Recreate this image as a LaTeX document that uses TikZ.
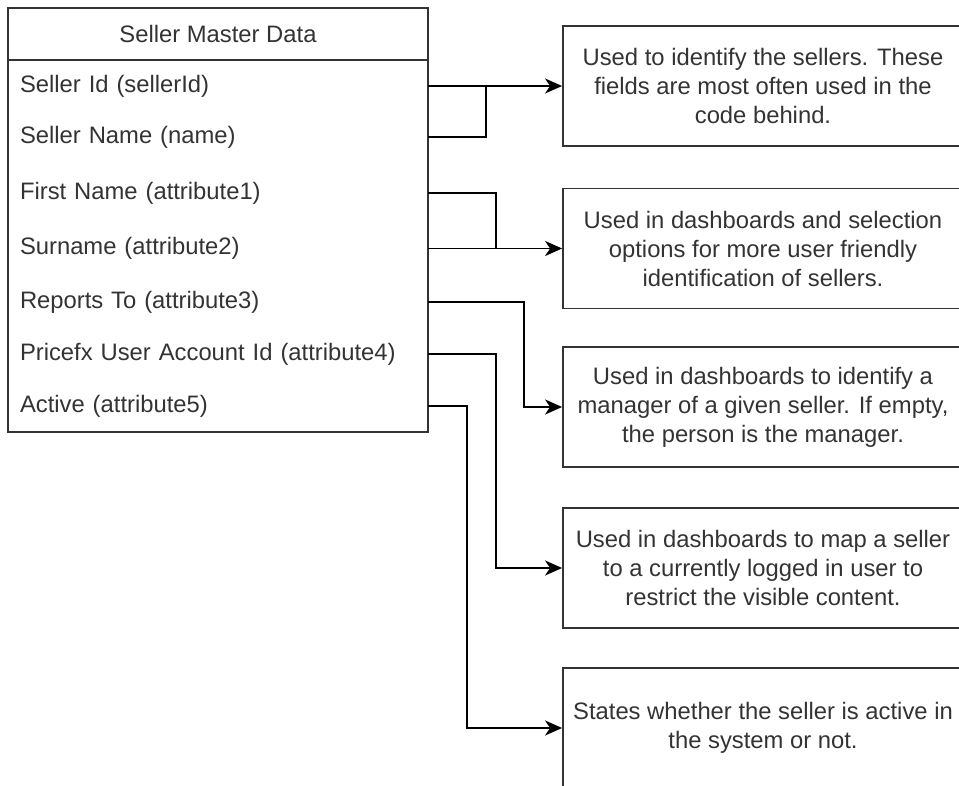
\documentclass[tikz,border=0pt]{standalone}
\usepackage{fontspec}
\setmainfont{Liberation Sans}
\usetikzlibrary{arrows.meta,positioning}
\definecolor{ink}{HTML}{333333}

\begin{document}
\begin{tikzpicture}[x=1pt, y=-1pt,
    font=\fontsize{23.8}{29}\selectfont, text=ink,
    field/.style = {minimum width=420pt, text width=396pt, inner xsep=12pt, align=left},
    note/.style = {draw=ink, line width=1.8pt, minimum width=400pt, minimum height=120pt, align=center},
    link/.style = {line width=1.8pt, -{Stealth[length=17pt, width=15pt, inset=5pt]}},
    branch/.style = {line width=1.8pt}]

  \clip (0,0) rectangle (959,786);

  % Master data table
  \node[draw=ink, line width=1.8pt, minimum width=420pt, minimum height=424pt] (table) at (218,220) {};
  \node (title) at (218,34) {Seller Master Data};
  \draw[ink, line width=1.8pt] (table.west |- 0,60) -- (table.east |- 0,60);

  \node[field] (sid)    at (218,86)    {Seller Id (sellerId)};
  \node[field] (sname)  at (218,137)   {Seller Name (name)};
  \node[field] (first)  at (218,193)   {First Name (attribute1)};
  \node[field] (sur)    at (218,248.5) {Surname (attribute2)};
  \node[field] (report) at (218,302)   {Reports To (attribute3)};
  \node[field] (acct)   at (218,354)   {Pricefx User Account Id (attribute4)};
  \node[field] (active) at (218,406)   {Active (attribute5)};

  % Descriptions
  \node[note] (ident)   at (763,86)    {Used to identify the sellers. These\\fields are most often used in the\\code behind.};
  \node[note] (friendly) at (763,248.5) {Used in dashboards and selection\\options for more user friendly\\identification of sellers.};
  \node[note] (manager) at (763,407)   {Used in dashboards to identify a\\manager of a given seller. If empty,\\the person is the manager.};
  \node[note] (login)   at (763,568)   {Used in dashboards to map a seller\\to a currently logged in user to\\restrict the visible content.};
  \node[note] (state)   at (763,728)   {States whether the seller is active in\\the system or not.};

  % Connectors
  \coordinate (joinA) at (486,86);
  \coordinate (joinB) at (496,248.5);
  \draw[link] (sid.east) -- (ident.west);
  \draw[branch] (sname.east) -| (joinA);
  \draw[link] (sur.east) -- (friendly.west);
  \draw[branch] (first.east) -| (joinB);
  \draw[link] (report.east) -- ++(96,0) |- (manager.west);
  \draw[link] (acct.east) -- ++(68,0) |- (login.west);
  \draw[link] (active.east) -- ++(39,0) |- (state.west);
\end{tikzpicture}
\end{document}
